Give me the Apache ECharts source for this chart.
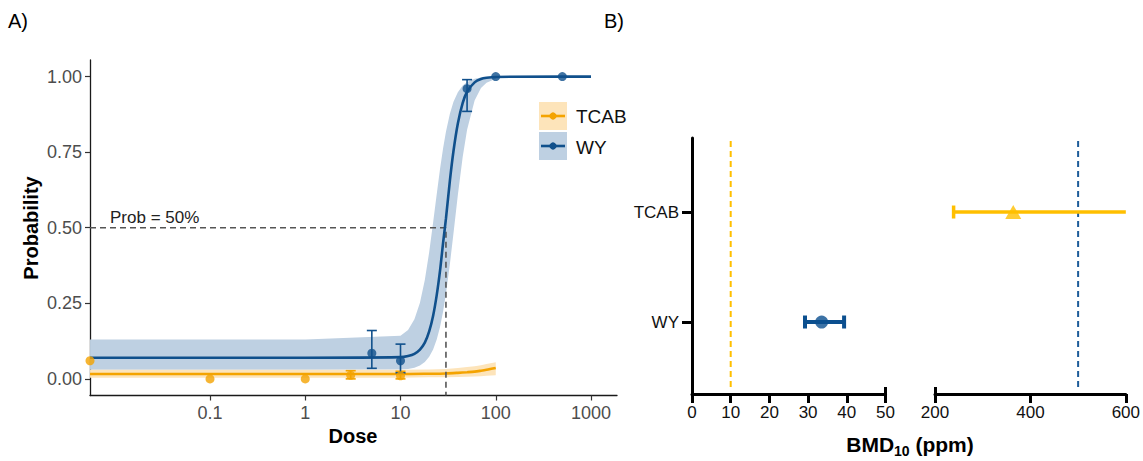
<!DOCTYPE html>
<html><head><meta charset="utf-8">
<script src="https://cdn.jsdelivr.net/npm/echarts@6/dist/echarts.min.js"></script>
<style>html,body{margin:0;padding:0;background:#fff}#c{width:1143px;height:461px}</style>
</head><body><div id="c"></div>
<script>
// ---------- Panel A data ----------
const xTickDoses = [0.1, 1, 10, 100, 1000];
const xTickLabels = ['0.1', '1', '10', '100', '1000'];
const yTicksA = [0, 0.25, 0.5, 0.75, 1];

const wyCurveDose = [0.0055, 1, 10, 12, 14, 16, 18, 20, 22, 24, 26, 28, 30, 33, 36, 40, 45, 50, 60, 70, 80, 100, 500, 1000];
const wyCurveProb = [0.07, 0.07, 0.072, 0.076, 0.083, 0.097, 0.12, 0.157, 0.209, 0.277, 0.358, 0.45, 0.53, 0.656, 0.754, 0.845, 0.913, 0.95, 0.981, 0.992, 0.996, 0.999, 1, 1];

const wyBandDose = [0.0055, 1, 10, 12, 14, 16, 18, 20, 22, 24, 26, 28, 30, 33, 36, 40, 45, 50, 60, 70, 80, 100];
const wyBandLo = [0.03, 0.03, 0.031, 0.033, 0.037, 0.044, 0.056, 0.073, 0.097, 0.13, 0.172, 0.223, 0.282, 0.38, 0.482, 0.608, 0.735, 0.824, 0.921, 0.962, 0.98, 0.993];
const wyBandHi = [0.13, 0.13, 0.143, 0.162, 0.197, 0.252, 0.327, 0.419, 0.517, 0.611, 0.694, 0.763, 0.818, 0.877, 0.917, 0.948, 0.971, 0.982, 0.993, 0.997, 0.998, 0.999];

const tcabCurveDose = [0.0055, 1, 10, 20, 30, 40, 50, 60, 70, 80, 100];
const tcabCurveProb = [0.016, 0.016, 0.016, 0.017, 0.018, 0.02, 0.022, 0.024, 0.027, 0.03, 0.036];
const tcabBandLo = [0.004, 0.004, 0.004, 0.005, 0.005, 0.006, 0.007, 0.008, 0.009, 0.01, 0.012];
const tcabBandHi = [0.03, 0.03, 0.03, 0.031, 0.033, 0.036, 0.039, 0.042, 0.045, 0.049, 0.055];

const wyDose = [5, 10, 50, 100, 500];
const wyProb = [0.085, 0.06, 0.96, 1, 1];
const wyErrLo = [0.035, 0.02, 0.885, null, null];
const wyErrHi = [0.16, 0.115, 0.99, null, null];

const tcabDose = [0, 0.1, 1, 3, 10];
const tcabProb = [0.06, 0.0, 0.0, 0.012, 0.01];
const tcabErrLo = [null, null, null, 0.0, 0.0];
const tcabErrHi = [null, null, null, 0.027, 0.025];

const ed50Dose = 30;
const ed50Prob = 0.5;

// ---------- Panel B data ----------
const bmdNames = ['WY', 'TCAB'];
const bmdValue = [33.5, 364];
const bmdLower = [29.2, 239];
const bmdUpper = [39.3, 620];
const refTCAB = 10;
const refWY = 500;
const bTicksLeft = [0, 10, 20, 30, 40, 50];
const bTicksRight = [200, 400, 600];

// ---------- helpers ----------
const LOG_MIN = -2.26, LOG_MAX = 3.273;
const Y_MIN = -0.055, Y_MAX = 1.055;
const BY_MIN = 0.3455, BY_MAX = 2.673;
const lg = d => d > 0 ? Math.log10(d) : LOG_MIN;
const FONT = "'Liberation Sans', Arial, Helvetica, sans-serif";

const C_WY = '#10508C', C_WY_BAND = '#BED0E2';
const C_TC = '#F4A300', C_TC_BAND = '#FDE4BA';
const C_B_OR = '#FFBF00', C_B_BL = '#0B4F8F';

function bandSeries(dose, lo, hi, color, z) {
  return {
    type: 'custom', xAxisIndex: 0, yAxisIndex: 0, z: z, silent: true,
    data: dose.map((d, i) => [lg(d), lo[i], hi[i]]),
    encode: { x: 0, y: [1, 2] },
    renderItem(params, api) {
      if (params.dataIndex !== 0) return;
      const top = dose.map((d, i) => api.coord([lg(d), hi[i]]));
      const bot = dose.map((d, i) => api.coord([lg(d), lo[i]])).reverse();
      return { type: 'polygon', shape: { points: top.concat(bot) }, style: { fill: color } };
    }
  };
}

function vErrSeries(dose, lo, hi, color, z) {
  const data = [];
  dose.forEach((d, i) => { if (lo[i] != null) data.push([lg(d), lo[i], hi[i]]); });
  return {
    type: 'custom', xAxisIndex: 0, yAxisIndex: 0, z: z, silent: true,
    data: data, encode: { x: 0, y: [1, 2] },
    renderItem(params, api) {
      const x = api.value(0);
      const p1 = api.coord([x, api.value(1)]), p2 = api.coord([x, api.value(2)]);
      const w = 5, st = { stroke: color, lineWidth: 1.6 };
      return { type: 'group', children: [
        { type: 'line', shape: { x1: p1[0], y1: p1[1], x2: p2[0], y2: p2[1] }, style: st },
        { type: 'line', shape: { x1: p1[0] - w, y1: p1[1], x2: p1[0] + w, y2: p1[1] }, style: st },
        { type: 'line', shape: { x1: p2[0] - w, y1: p2[1], x2: p2[0] + w, y2: p2[1] }, style: st }
      ]};
    }
  };
}

function hErrSeries(idx, xAxisIndex, yAxisIndex, xmin, xmax, color, width, z) {
  return {
    type: 'custom', xAxisIndex: xAxisIndex, yAxisIndex: yAxisIndex, z: z, silent: true,
    data: [[bmdValue[idx], idx + 1, bmdLower[idx], bmdUpper[idx]]],
    encode: { x: [0, 2, 3], y: 1 },
    renderItem(params, api) {
      const y = api.value(1);
      const lo = api.value(2), hi = api.value(3);
      const p1 = api.coord([Math.max(lo, xmin), y]), p2 = api.coord([Math.min(hi, xmax), y]);
      const h = 6.5, st = { stroke: color, lineWidth: width };
      const ch = [{ type: 'line', shape: { x1: p1[0], y1: p1[1], x2: p2[0], y2: p2[1] }, style: st }];
      if (lo >= xmin) ch.push({ type: 'line', shape: { x1: p1[0], y1: p1[1] - h, x2: p1[0], y2: p1[1] + h }, style: st });
      if (hi <= xmax) ch.push({ type: 'line', shape: { x1: p2[0], y1: p2[1] - h, x2: p2[0], y2: p2[1] + h }, style: st });
      return { type: 'group', children: ch };
    }
  };
}

const xTickLogs = xTickDoses.map(d => Math.log10(d));

const bAxisCommon = {
  type: 'value', splitLine: { show: false },
  axisLine: { show: true, lineStyle: { color: '#000', width: 3 } },
  axisTick: { show: true, length: 9, lineStyle: { color: '#000', width: 3 } },
  axisLabel: { color: '#111', fontSize: 17, fontFamily: FONT, margin: 10 }
};

const option = {
  animation: false,
  backgroundColor: '#fff',
  grid: [
    { left: 90, top: 60, width: 527, height: 335.5 },
    { left: 692, top: 138, width: 193.5, height: 256 },
    { left: 935, top: 138, width: 193, height: 256 }
  ],
  xAxis: [
    {
      gridIndex: 0, type: 'value', min: LOG_MIN, max: LOG_MAX, splitLine: { show: false },
      axisLine: { show: true, onZero: false, lineStyle: { color: '#1a1a1a', width: 1.3 } },
      axisTick: { show: true, length: 5, customValues: xTickLogs, lineStyle: { color: '#333', width: 1.2 } },
      axisLabel: {
        customValues: xTickLogs, color: '#4D4D4D', fontSize: 18, fontFamily: FONT, margin: 8,
        formatter: v => { const i = xTickLogs.findIndex(t => Math.abs(t - v) < 1e-6); return i >= 0 ? xTickLabels[i] : ''; }
      }
    },
    Object.assign({}, bAxisCommon, { gridIndex: 1, min: 0, max: 50, interval: 10,
      axisLabel: Object.assign({}, bAxisCommon.axisLabel, { customValues: bTicksLeft }),
      axisTick: Object.assign({}, bAxisCommon.axisTick, { customValues: bTicksLeft }) }),
    { gridIndex: 1, type: 'value', position: 'bottom', min: 0, max: 50, splitLine: { show: false },
      axisLine: { show: false }, axisLabel: { show: false },
      axisTick: { show: true, inside: true, length: 7, customValues: [50], lineStyle: { color: '#000', width: 3 } } },
    Object.assign({}, bAxisCommon, { gridIndex: 2, min: 200, max: 600, interval: 200,
      axisLabel: Object.assign({}, bAxisCommon.axisLabel, { customValues: bTicksRight }),
      axisTick: Object.assign({}, bAxisCommon.axisTick, { customValues: bTicksRight }) }),
    { gridIndex: 2, type: 'value', position: 'bottom', min: 200, max: 600, splitLine: { show: false },
      axisLine: { show: false }, axisLabel: { show: false },
      axisTick: { show: true, inside: true, length: 7, customValues: [200], lineStyle: { color: '#000', width: 3 } } }
  ],
  yAxis: [
    {
      gridIndex: 0, type: 'value', min: Y_MIN, max: Y_MAX, splitLine: { show: false },
      axisLine: { show: true, onZero: false, lineStyle: { color: '#1a1a1a', width: 1.3 } },
      axisTick: { show: true, length: 5, customValues: yTicksA, lineStyle: { color: '#333', width: 1.2 } },
      axisLabel: { customValues: yTicksA, color: '#4D4D4D', fontSize: 18, fontFamily: FONT, margin: 8,
        formatter: v => v.toFixed(2) }
    },
    {
      gridIndex: 1, type: 'value', min: BY_MIN, max: BY_MAX, splitLine: { show: false },
      axisLine: { show: true, onZero: false, lineStyle: { color: '#000', width: 3 } },
      axisTick: { show: true, length: 10, customValues: [1, 2], lineStyle: { color: '#000', width: 3 } },
      axisLabel: { customValues: [1, 2], color: '#111', fontSize: 17, fontFamily: FONT, margin: 13,
        formatter: v => bmdNames[Math.round(v) - 1] || '' }
    },
    { gridIndex: 2, type: 'value', min: BY_MIN, max: BY_MAX, show: false, splitLine: { show: false } }
  ],
  series: [
    bandSeries(wyBandDose, wyBandLo, wyBandHi, C_WY_BAND, 1),
    bandSeries(tcabCurveDose, tcabBandLo, tcabBandHi, C_TC_BAND, 2),
    {
      type: 'line', xAxisIndex: 0, yAxisIndex: 0, z: 3, symbol: 'none', smooth: 0.3,
      data: tcabCurveDose.map((d, i) => [lg(d), tcabCurveProb[i]]),
      lineStyle: { color: C_TC, width: 2.6 }, silent: true
    },
    {
      type: 'line', xAxisIndex: 0, yAxisIndex: 0, z: 4, symbol: 'none',
      data: [[LOG_MIN, ed50Prob], [lg(ed50Dose), ed50Prob], [lg(ed50Dose), Y_MIN]],
      lineStyle: { color: '#555', width: 1.6, type: [6, 4] }, silent: true
    },
    {
      type: 'line', xAxisIndex: 0, yAxisIndex: 0, z: 5, symbol: 'none', smooth: 0.3,
      data: wyCurveDose.map((d, i) => [lg(d), wyCurveProb[i]]),
      lineStyle: { color: C_WY, width: 2.6 }, silent: true
    },
    vErrSeries(tcabDose, tcabErrLo, tcabErrHi, C_TC, 6),
    vErrSeries(wyDose, wyErrLo, wyErrHi, C_WY, 6),
    {
      type: 'scatter', xAxisIndex: 0, yAxisIndex: 0, z: 7, symbol: 'circle', symbolSize: 9,
      data: tcabDose.map((d, i) => [lg(d), tcabProb[i]]), itemStyle: { color: C_TC }, silent: true
    },
    {
      type: 'scatter', xAxisIndex: 0, yAxisIndex: 0, z: 7, symbol: 'circle', symbolSize: 9,
      data: wyDose.map((d, i) => [lg(d), wyProb[i]]), itemStyle: { color: C_WY }, silent: true
    },
    // Panel B
    {
      type: 'line', xAxisIndex: 1, yAxisIndex: 1, z: 3, symbol: 'none',
      data: [[refTCAB, 0.41], [refTCAB, BY_MAX]],
      lineStyle: { color: C_B_OR, width: 2, type: [6, 4] }, silent: true
    },
    {
      type: 'line', xAxisIndex: 3, yAxisIndex: 2, z: 3, symbol: 'none',
      data: [[refWY, 0.41], [refWY, BY_MAX]],
      lineStyle: { color: '#1D5C99', width: 2, type: [6, 4] }, silent: true
    },
    hErrSeries(0, 1, 1, 0, 50, C_B_BL, 4, 5),
    hErrSeries(1, 3, 2, 200, 600, C_B_OR, 3.5, 5),
    {
      type: 'scatter', xAxisIndex: 1, yAxisIndex: 1, z: 6, symbol: 'circle', symbolSize: 13,
      data: [[bmdValue[0], 1]], itemStyle: { color: C_B_BL }, silent: true
    },
    {
      type: 'scatter', xAxisIndex: 3, yAxisIndex: 2, z: 6, symbol: 'triangle', symbolSize: [16, 14],
      data: [[bmdValue[1], 2]], itemStyle: { color: C_B_OR }, silent: true
    }
  ],
  graphic: [
    { type: 'text', x: 8, y: 11, style: { text: 'A)', font: '20px ' + FONT, fill: '#000' } },
    { type: 'text', x: 604, y: 11, style: { text: 'B)', font: '20px ' + FONT, fill: '#000' } },
    { type: 'text', x: 31, y: 228, rotation: Math.PI / 2,
      style: { text: 'Probability', font: 'bold 20px ' + FONT, fill: '#000', align: 'center', verticalAlign: 'middle', textAlign: 'center', textVerticalAlign: 'middle' } },
    { type: 'text', x: 353, y: 436,
      style: { text: 'Dose', font: 'bold 20px ' + FONT, fill: '#000', align: 'center', verticalAlign: 'middle', textAlign: 'center', textVerticalAlign: 'middle' } },
    { type: 'text', x: 110, y: 217,
      style: { text: 'Prob = 50%', font: '17px ' + FONT, fill: '#222', align: 'left', verticalAlign: 'middle', textAlign: 'left', textVerticalAlign: 'middle' } },
    // legend
    { type: 'rect', shape: { x: 539, y: 102, width: 28, height: 28 }, style: { fill: C_TC_BAND } },
    { type: 'line', shape: { x1: 541, y1: 116, x2: 565, y2: 116 }, style: { stroke: C_TC, lineWidth: 2.6 } },
    { type: 'circle', shape: { cx: 553, cy: 116, r: 3.6 }, style: { fill: C_TC } },
    { type: 'rect', shape: { x: 539, y: 132, width: 28, height: 28 }, style: { fill: C_WY_BAND } },
    { type: 'line', shape: { x1: 541, y1: 146, x2: 565, y2: 146 }, style: { stroke: C_WY, lineWidth: 2.6 } },
    { type: 'circle', shape: { cx: 553, cy: 146, r: 3.6 }, style: { fill: C_WY } },
    { type: 'text', x: 576, y: 116, style: { text: 'TCAB', font: '19px ' + FONT, fill: '#111', verticalAlign: 'middle', textVerticalAlign: 'middle' } },
    { type: 'text', x: 576, y: 147, style: { text: 'WY', font: '19px ' + FONT, fill: '#111', verticalAlign: 'middle', textVerticalAlign: 'middle' } },
    // BMD axis title
    { type: 'text', x: 910, y: 446,
      style: {
        text: '{a|BMD}{b|10}{a| (ppm)}', align: 'center', verticalAlign: 'middle', textAlign: 'center', textVerticalAlign: 'middle',
        rich: {
          a: { font: 'bold 21px ' + FONT, fill: '#000', lineHeight: 24, verticalAlign: 'top' },
          b: { font: 'bold 14px ' + FONT, fill: '#000', lineHeight: 16, verticalAlign: 'bottom' }
        }
      } }
  ]
};

const chart = echarts.init(document.getElementById('c'), null, { renderer: 'svg' });
chart.setOption(option);
</script>
</body></html>
